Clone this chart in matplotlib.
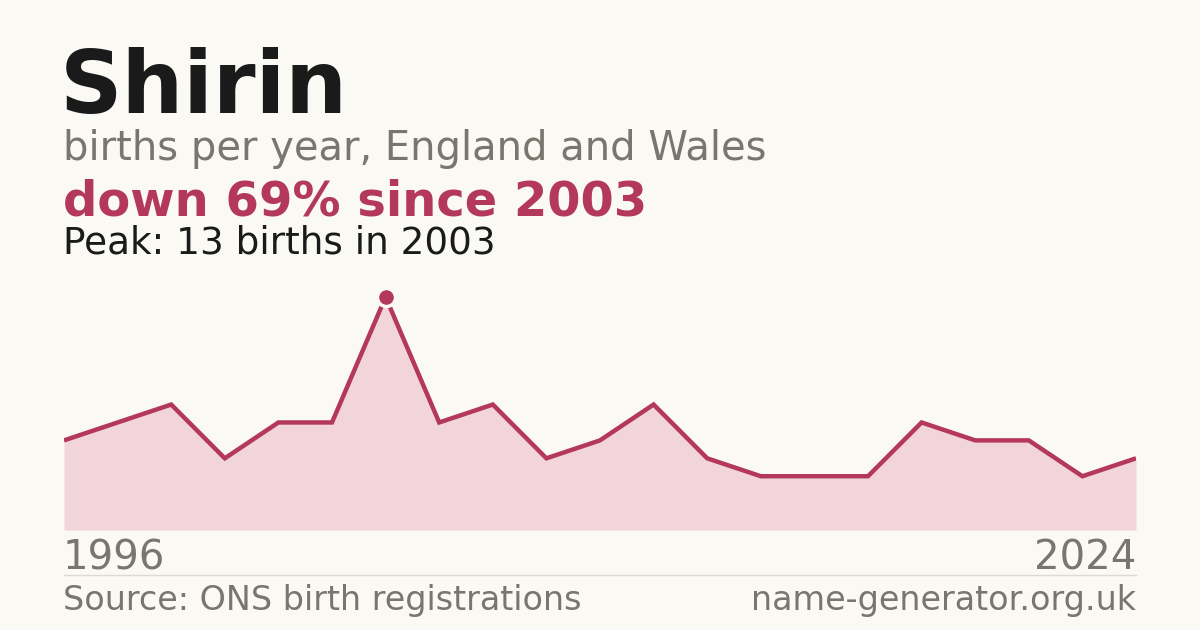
import matplotlib
matplotlib.use("Agg")
import matplotlib.pyplot as plt

# data
years = [1996, 1998, 1999, 2000, 2001, 2002, 2003, 2004, 2005, 2006, 2007,
         2008, 2009, 2010, 2011, 2012, 2013, 2014, 2015, 2016, 2024]
births = [5, 6, 7, 4, 6, 6, 13, 6, 7, 4, 5, 7, 4, 3, 3, 3, 6, 5, 5, 3, 4]
name = "Shirin"
subtitle = "births per year, England and Wales"
change_text = "down 69% since 2003"
peak_text = "Peak: 13 births in 2003"
source_text = "Source: ONS birth registrations"
site_text = "name-generator.org.uk"

BG = "#FAF9F4"
RED = "#B3385A"
FILL = "#F2D5DB"
GRAY = "#7A756D"
DARK = "#1A1A1A"

W, H = 1200, 630
fig = plt.figure(figsize=(W / 100, H / 100), dpi=100, facecolor=BG)

def fx(px):
    return px / W

def fy(py):
    return 1 - py / H

# chart axes: x from 64 to 1136, baseline at y=530, top at y=280
ax = fig.add_axes([fx(64), fy(530), (1136 - 64) / W, (530 - 280) / H])
ax.set_facecolor("none")
idx = list(range(len(births)))
ax.fill_between(idx, births, 0, color=FILL, lw=0)
ax.plot(idx, births, color=RED, lw=3.2, solid_joinstyle="miter", solid_capstyle="butt")
pk = births.index(max(births))
ax.plot([idx[pk]], [births[pk]], "o", color=RED, ms=13, mec=BG, mew=2.5, zorder=5)
ax.set_xlim(0, len(births) - 1)
ax.set_ylim(0, 250 / (233 / 13))
ax.axis("off")

# texts
fig.text(fx(60), fy(113), name, fontsize=62.5, fontweight="bold", color=DARK,
         ha="left", va="baseline")
fig.text(fx(63), fy(160), subtitle, fontsize=28.8, color=GRAY, ha="left", va="baseline")
fig.text(fx(63), fy(215), change_text, fontsize=34.6, fontweight="bold", color=RED,
         ha="left", va="baseline")
fig.text(fx(63), fy(254), peak_text, fontsize=26.9, color=DARK, ha="left", va="baseline")

fig.text(fx(63), fy(570), str(years[0]), fontsize=29, color=GRAY, ha="left", va="baseline")
fig.text(fx(1136), fy(570), str(years[-1]), fontsize=29, color=GRAY, ha="right", va="baseline")

fig.add_artist(plt.Line2D([fx(64), fx(1136)], [fy(574.5), fy(574.5)],
                          color="#DDDAD3", lw=1, transform=fig.transFigure))

fig.text(fx(63), fy(610), source_text, fontsize=24, color=GRAY, ha="left", va="baseline")
fig.text(fx(1136), fy(610), site_text, fontsize=24, color=GRAY, ha="right", va="baseline")

fig.savefig("out.png", dpi=100, facecolor=BG)
